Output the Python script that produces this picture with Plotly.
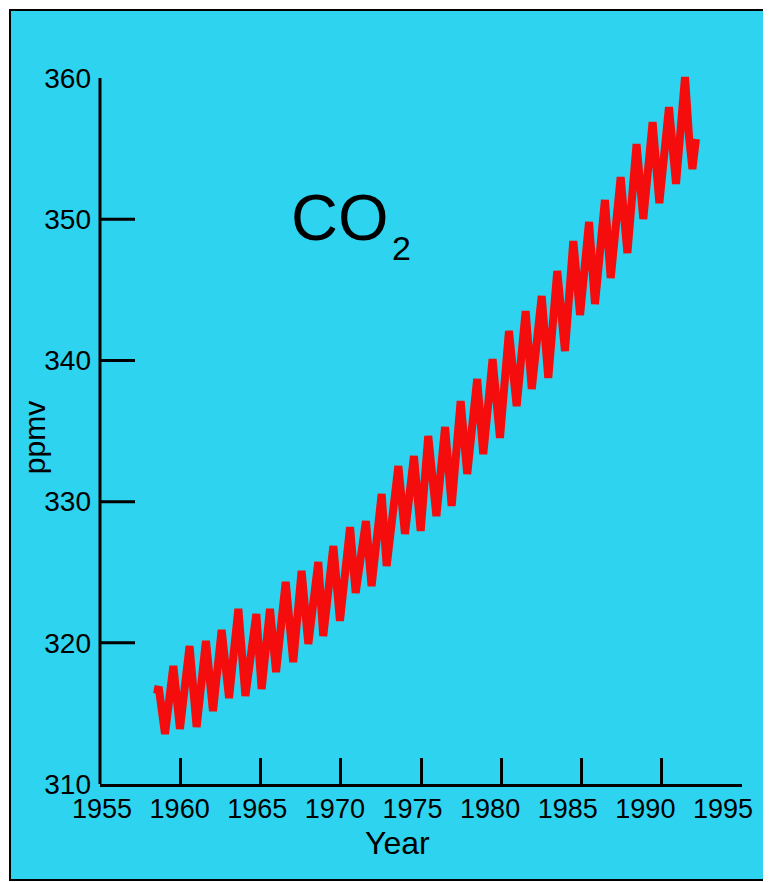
import plotly.graph_objects as go

years = [1958.36, 1958.68, 1959.05, 1959.57, 1959.98, 1960.58, 1961.02, 1961.60,
         1962.04, 1962.58, 1963.04, 1963.62, 1964.06, 1964.74, 1965.07, 1965.59,
         1965.97, 1966.57, 1967.04, 1967.56, 1967.98, 1968.60, 1968.91, 1969.54,
         1969.95, 1970.58, 1970.93, 1971.57, 1971.92, 1972.55, 1972.86, 1973.59,
         1974.00, 1974.56, 1974.98, 1975.45, 1975.96, 1976.50, 1976.91, 1977.47,
         1977.88, 1978.50, 1978.88, 1979.46, 1979.92, 1980.48, 1980.96, 1981.52,
         1981.90, 1982.52, 1982.93, 1983.49, 1983.97, 1984.49, 1984.91, 1985.47,
         1985.84, 1986.46, 1986.82, 1987.44, 1987.86, 1988.43, 1988.85, 1989.43,
         1989.85, 1990.45, 1990.89, 1991.45, 1991.70, 1991.91, 1992.13]
co2_ppmv = [316.73, 316.66, 313.54, 318.36, 313.90, 319.77, 314.04, 320.13,
            315.17, 320.91, 316.09, 322.40, 316.23, 322.04, 316.73, 322.40,
            317.93, 324.31, 318.64, 325.09, 319.92, 325.72, 320.48, 326.86,
            321.55, 328.20, 323.53, 328.63, 324.02, 330.54, 325.44, 332.52,
            327.71, 333.23, 327.92, 334.65, 328.98, 335.29, 329.69, 337.13,
            331.96, 338.69, 333.37, 340.10, 334.51, 342.09, 336.77, 343.50,
            337.98, 344.57, 338.76, 346.34, 340.67, 348.46, 343.22, 349.81,
            344.00, 351.37, 345.84, 352.99, 347.61, 355.33, 350.02, 356.89,
            351.15, 357.95, 352.50, 360.08, 355.83, 353.56, 355.69]

x_ticks = [1955, 1960, 1965, 1970, 1975, 1980, 1985, 1990, 1995]
y_ticks = [310, 320, 330, 340, 350, 360]
y_tick_marks = [320, 330, 340, 350]

BG = "#2ED3EF"
FONT = "Liberation Sans, Arial, sans-serif"

fig = go.Figure()
fig.add_trace(go.Scatter(x=years, y=co2_ppmv, mode="lines",
                         line=dict(color="rgb(245,12,12)", width=8),
                         hoverinfo="skip", showlegend=False))

shapes = [
    # outer framed panel
    dict(type="rect", xref="paper", yref="paper", x0=-0.1402, x1=1.0405,
         y0=-0.1333, y1=1.075, line=dict(color="black", width=2),
         fillcolor=BG, layer="below"),
    # y axis line up to 360
    dict(type="line", xref="paper", yref="y", x0=0, x1=0, y0=310, y1=360,
         line=dict(color="black", width=3)),
]
for v in y_tick_marks:
    shapes.append(dict(type="line", xref="paper", yref="y", x0=0, x1=35 / 642,
                       y0=v, y1=v, line=dict(color="black", width=3)))

fig.update_layout(
    width=763, height=874,
    margin=dict(l=92, r=29, t=56, b=98),
    paper_bgcolor="white", plot_bgcolor="rgba(0,0,0,0)",
    font=dict(family=FONT, color="black", size=27),
    shapes=shapes,
    xaxis=dict(range=[1955, 1995], tickvals=x_ticks, ticks="inside", ticklen=26,
               tickwidth=3, tickcolor="black", showline=True, linecolor="black",
               linewidth=3, showgrid=False, zeroline=False, showticklabels=False),
    # year labels as set in the original artwork (slightly tighter than the ticks)
    xaxis2=dict(overlaying="x", anchor="y", side="bottom",
                range=[1954.871, 1996.224], tickvals=x_ticks, ticks="",
                showline=False, showgrid=False, zeroline=False,
                tickfont=dict(size=27), ticklabelstandoff=6),
    yaxis=dict(range=[310, 361], tickvals=y_ticks, ticks="", showline=False,
               showgrid=False, zeroline=False, tickfont=dict(size=28),
               ticklabelstandoff=8),
    annotations=[
        dict(text="ppmv", xref="paper", yref="paper", x=-0.101, y=0.4806,
             textangle=-90, showarrow=False, font=dict(size=30),
             xanchor="center", yanchor="middle"),
        dict(text="Year", xref="paper", yref="paper", x=0.464, y=-0.0819,
             showarrow=False, font=dict(size=32), xanchor="center", yanchor="middle"),
        dict(text="CO", xref="paper", yref="paper", x=0.374, y=0.7875,
             showarrow=False, font=dict(size=65), xanchor="center", yanchor="middle"),
        dict(text="2", xref="paper", yref="paper", x=0.469, y=0.744,
             showarrow=False, font=dict(size=34), xanchor="center", yanchor="middle"),
    ],
)
# invisible helper trace so the label axis is drawn
fig.add_trace(go.Scatter(x=[1955], y=[310], xaxis="x2", mode="markers",
                         marker=dict(opacity=0), hoverinfo="skip", showlegend=False))

fig.write_html("out.html")
